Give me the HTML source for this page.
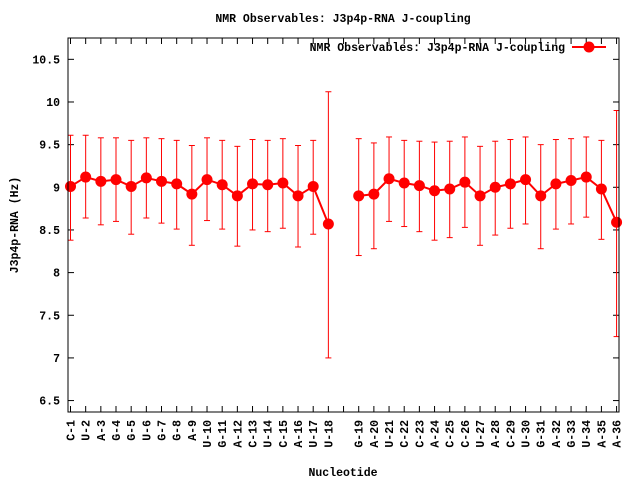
<!DOCTYPE html>
<html><head><meta charset="utf-8"><style>
body{margin:0;background:#fff}
svg text{font-family:"Liberation Mono",monospace;font-weight:bold;font-size:11.5px;fill:#000}
</style></head><body>
<svg id="chart" width="640" height="480" xmlns="http://www.w3.org/2000/svg">
<rect width="640" height="480" fill="#fff"/>
<text x="343" y="22" text-anchor="middle">NMR Observables: J3p4p-RNA J-coupling</text>
<g id="grid"></g>
<g id="series"></g>
<rect x="68" y="38" width="551" height="374" fill="none" stroke="#000" stroke-width="1"/>
<text transform="translate(18,225) rotate(-90)" text-anchor="middle">J3p4p-RNA (Hz)</text>
<text x="343" y="476" text-anchor="middle">Nucleotide</text>
<g>
<text x="565" y="51" text-anchor="end">NMR Observables: J3p4p-RNA J-coupling</text>
<line x1="572" y1="47" x2="606" y2="47" stroke="#f00" stroke-width="2"/>
<circle cx="589" cy="47" r="5.5" fill="#f00"/>
</g>
</svg>
<script>
const categories=["C-1","U-2","A-3","G-4","G-5","U-6","G-7","G-8","A-9","U-10","G-11","A-12","C-13","U-14","C-15","A-16","U-17","U-18","","G-19","A-20","U-21","C-22","C-23","A-24","C-25","C-26","U-27","A-28","C-29","U-30","G-31","A-32","G-33","U-34","A-35","A-36"];
const values=[9.01,9.12,9.07,9.09,9.01,9.11,9.07,9.04,8.92,9.09,9.03,8.90,9.04,9.03,9.05,8.90,9.01,8.57,null,8.90,8.92,9.10,9.05,9.02,8.96,8.98,9.06,8.90,9.00,9.04,9.09,8.90,9.04,9.08,9.12,8.98,8.59];
const errHigh=[9.61,9.61,9.58,9.58,9.55,9.58,9.57,9.55,9.49,9.58,9.55,9.48,9.56,9.55,9.57,9.49,9.55,10.12,null,9.57,9.52,9.59,9.55,9.54,9.53,9.54,9.59,9.48,9.54,9.56,9.59,9.50,9.56,9.57,9.59,9.55,9.90];
const errLow=[8.38,8.64,8.56,8.60,8.45,8.64,8.58,8.51,8.32,8.61,8.51,8.31,8.50,8.48,8.52,8.30,8.45,7.00,null,8.20,8.28,8.60,8.54,8.48,8.38,8.41,8.53,8.32,8.44,8.52,8.57,8.28,8.51,8.57,8.65,8.39,7.25];
const yTicks=[6.5,7,7.5,8,8.5,9,9.5,10,10.5];
const yTickLabels=["6.5","7","7.5","8","8.5","9","9.5","10","10.5"];
const NS="http://www.w3.org/2000/svg";
const X0=68,X1=619,Y0=412,Y1=38;
const xMin=-0.165,xMax=36.16,yMin=6.366,yMax=10.75;
function xs(i){return X0+(i-xMin)/(xMax-xMin)*(X1-X0);}
function ys(v){return Y0-(v-yMin)/(yMax-yMin)*(Y0-Y1);}
function mk(tag,attrs,parent){const e=document.createElementNS(NS,tag);for(const k in attrs)e.setAttribute(k,attrs[k]);parent.appendChild(e);return e;}
const grid=document.getElementById('grid'),ser=document.getElementById('series');
yTicks.forEach((t,i)=>{const y=ys(t);
 let a=mk('line',{x1:X0,y1:y,x2:X0+6,y2:y,stroke:'#000'},grid);
 
 
 let b=mk('line',{x1:X1-6,y1:y,x2:X1,y2:y,stroke:'#000'},grid);
 
 
 let tx=mk('text',{x:60,y:y+4,'text-anchor':'end'},grid);tx.textContent=yTickLabels[i];
 
 
});
categories.forEach((c,i)=>{const x=xs(i);
 let a=mk('line',{x1:x,y1:Y0,x2:x,y2:Y0-6,stroke:'#000'},grid);
 
 
 let b=mk('line',{x1:x,y1:Y1,x2:x,y2:Y1+6,stroke:'#000'},grid);
 
 
 if(c){let tx=mk('text',{transform:`translate(${x+4},420) rotate(-90)`,'text-anchor':'end'},grid);tx.textContent=c;
 
 }
});
let seg=[];const segs=[];
values.forEach((v,i)=>{if(v===null){if(seg.length)segs.push(seg);seg=[];}else seg.push(i);});
if(seg.length)segs.push(seg);
segs.forEach(s=>{const p=mk('polyline',{points:s.map(i=>xs(i)+','+ys(values[i])).join(' '),fill:'none',stroke:'#f00','stroke-width':2},ser);
 
 });
values.forEach((v,i)=>{if(v===null)return;const x=xs(i),yh=ys(errHigh[i]),yl=ys(errLow[i]);
 const g=mk('g',{},ser);
 
 
 mk('line',{x1:x,y1:yh,x2:x,y2:yl,stroke:'#f00'},g);
 mk('line',{x1:x-3,y1:yh,x2:x+3,y2:yh,stroke:'#f00'},g);
 mk('line',{x1:x-3,y1:yl,x2:x+3,y2:yl,stroke:'#f00'},g);
 const c=mk('circle',{cx:x,cy:ys(v),r:5.5,fill:'#f00'},ser);
 
 
});
</script>
</body></html>
